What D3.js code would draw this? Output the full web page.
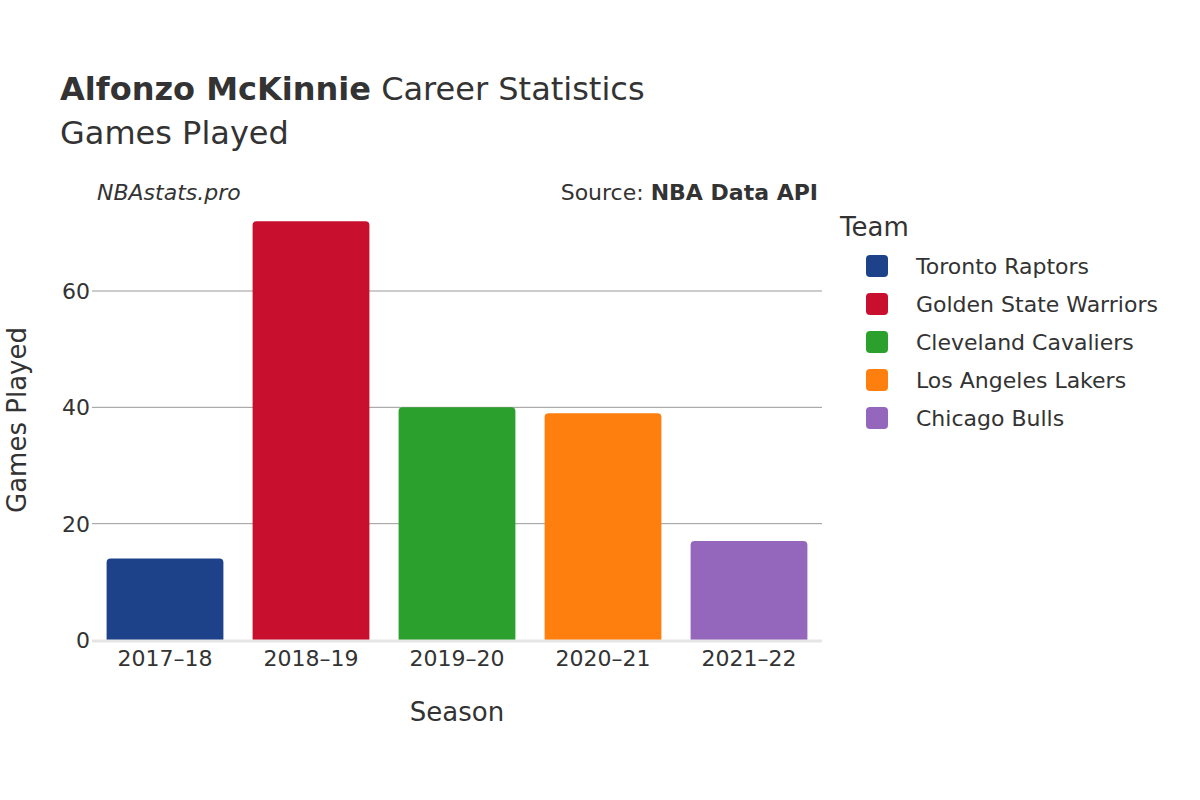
<!DOCTYPE html>
<html><head><meta charset="utf-8">
<script src="https://cdn.jsdelivr.net/npm/d3@7"></script>
<style>body{margin:0;background:#fff}text{font-family:"DejaVu Sans",sans-serif;fill:#333}</style>
</head><body>
<script>
const seasons = ["2017–18", "2018–19", "2019–20", "2020–21", "2021–22"];
const teams = ["Toronto Raptors", "Golden State Warriors", "Cleveland Cavaliers", "Los Angeles Lakers", "Chicago Bulls"];
const games = [14, 72, 40, 39, 17];
const colors = ["#1d428a", "#c8102e", "#2ca02c", "#ff7f0e", "#9467bd"];
const yTicks = [0, 20, 40, 60];

const svg = d3.select("body").append("svg").attr("width", 1200).attr("height", 800);

const x = d3.scaleBand().domain(seasons).range([92, 822]).paddingInner(0.2).paddingOuter(0.1);
const y = d3.scaleLinear().domain([0, 60]).range([640, 291]);

// grid
svg.selectAll(".grid").data(yTicks.slice(1)).join("line")
  .attr("x1", 92).attr("x2", 822).attr("y1", d => y(d)).attr("y2", d => y(d))
  .style("stroke", "#999").style("stroke-width", 1);
svg.selectAll(".yt").data(yTicks).join("text")
  .attr("x", 90).attr("y", d => y(d) + 8).attr("text-anchor", "end")
  .style("font-size", "22px").text(d => d);

// bars with rounded tops
const r = 4;
svg.selectAll(".bar").data(games).join("path")
  .attr("d", (d, i) => {
    const x0 = x(seasons[i]), w = x.bandwidth(), y0 = y(d), b = y(0);
    return `M${x0},${b}V${y0 + r}Q${x0},${y0} ${x0 + r},${y0}H${x0 + w - r}Q${x0 + w},${y0} ${x0 + w},${y0 + r}V${b}Z`;
  })
  .style("fill", (d, i) => colors[i]);

svg.append("line").attr("x1", 92).attr("x2", 822).attr("y1", 641).attr("y2", 641)
  .style("stroke", "#e5e5e5").style("stroke-width", 3);

svg.selectAll(".xt").data(seasons).join("text")
  .attr("x", d => x(d) + x.bandwidth() / 2).attr("y", 666).attr("text-anchor", "middle")
  .style("font-size", "22px").text(d => d);

svg.append("text").attr("x", 457).attr("y", 721).attr("text-anchor", "middle")
  .style("font-size", "26px").text("Season");
svg.append("text").attr("transform", "translate(26,420) rotate(-90)").attr("text-anchor", "middle")
  .style("font-size", "26px").text("Games Played");

// titles
const t = svg.append("text").attr("x", 60).attr("y", 100).style("font-size", "32px");
t.append("tspan").style("font-weight", "bold").text("Alfonzo McKinnie");
t.append("tspan").text(" Career Statistics");
svg.append("text").attr("x", 60).attr("y", 144).style("font-size", "32px").text("Games Played");
svg.append("text").attr("x", 97).attr("y", 200).style("font-size", "22px").style("font-style", "italic").text("NBAstats.pro");
const s = svg.append("text").attr("x", 818).attr("y", 200).attr("text-anchor", "end").style("font-size", "22px");
s.append("tspan").text("Source: ");
s.append("tspan").style("font-weight", "bold").text("NBA Data API");

// legend
svg.append("text").attr("x", 840).attr("y", 236).style("font-size", "26px").text("Team");
const lg = svg.selectAll(".lg").data(teams).join("g")
  .attr("transform", (d, i) => `translate(866,${255 + i * 38})`);
lg.append("rect").attr("width", 22).attr("height", 22).attr("rx", 4).style("fill", (d, i) => colors[i]);
lg.append("text").attr("x", 50).attr("y", 19).style("font-size", "22px").text(d => d);
</script>
</body></html>
